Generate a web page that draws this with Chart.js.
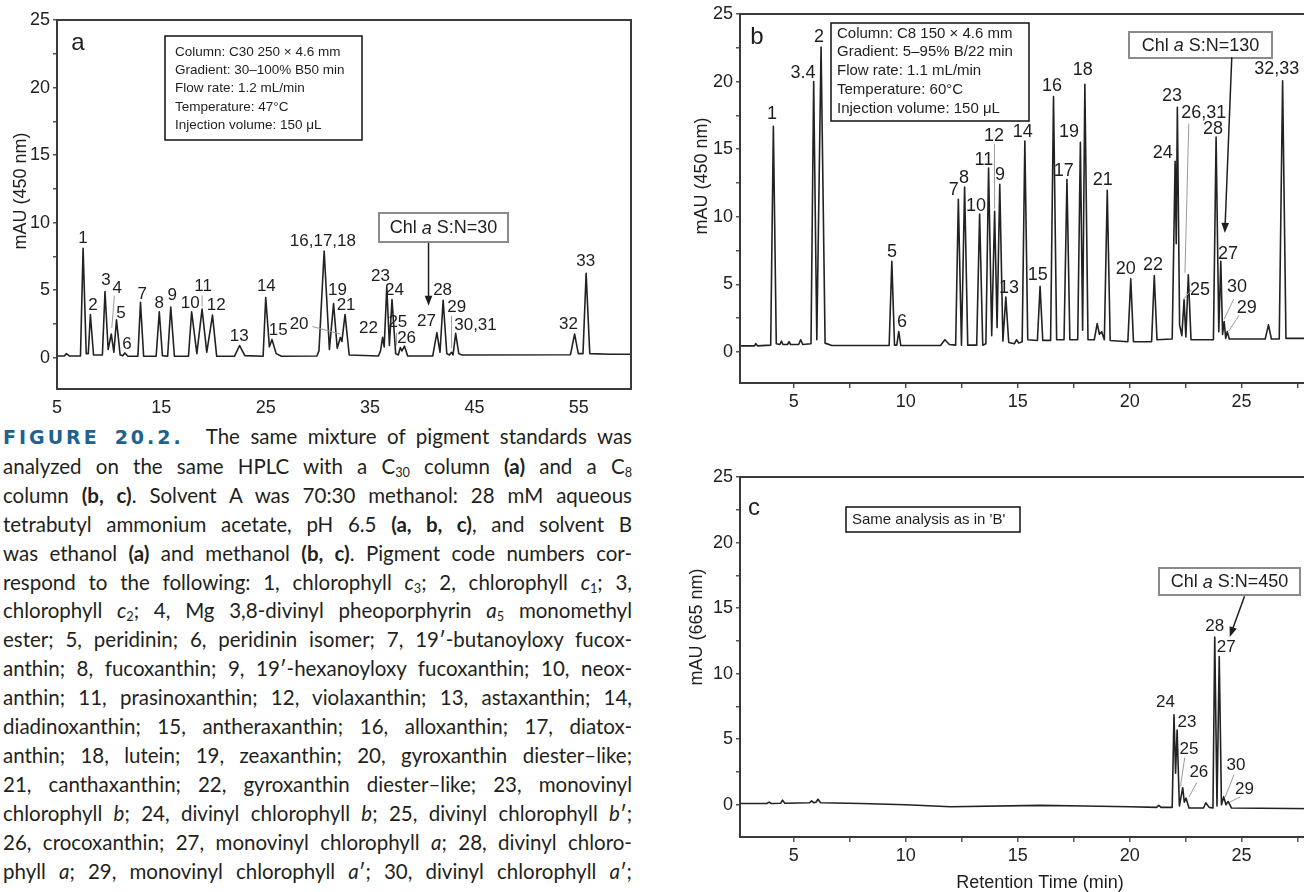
<!DOCTYPE html>
<html>
<head>
<meta charset="utf-8">
<script src="https://cdn.jsdelivr.net/npm/chart.js@4.4.1/dist/chart.umd.min.js"></script>
<style>
  html, body { margin: 0; padding: 0; background: #fff; }
  body { width: 1304px; height: 892px; overflow: hidden; position: relative; }
  canvas { position: absolute; }
  #cA { left: 0; top: 0; }
  #cB { left: 640px; top: 0; }
  #cC { left: 640px; top: 460px; }
  #leyenda {
    position: absolute; left: 3px; top: 422px; width: 629px;
    font-family: Lato, "Open Sans", sans-serif; font-size: 20.5px; line-height: 28.9px; color: #231f20;
  }
  #leyenda div { white-space: nowrap; text-align: justify; text-align-last: justify; }
  .fig { font-family: "DejaVu Sans", sans-serif; font-weight: bold; font-size: 19px; letter-spacing: 3px; color: #20618f; margin-right: 12px; }
  sub { font-size: 0.62em; line-height: 0; vertical-align: -0.25em; }
</style>
</head>
<body>
<canvas id="cA" width="640" height="418"></canvas>
<canvas id="cB" width="700" height="418"></canvas>
<canvas id="cC" width="700" height="432"></canvas>

<div id="leyenda">
  <div><span class="fig">FIGURE 20.2.</span> The same mixture of pigment standards was</div>
  <div>analyzed on the same HPLC with a C<sub>30</sub> column <b>(a)</b> and a C<sub>8</sub></div>
  <div>column <b>(b, c)</b>. Solvent A was 70:30 methanol: 28 mM aqueous</div>
  <div>tetrabutyl ammonium acetate, pH 6.5 <b>(a, b, c)</b>, and solvent B</div>
  <div>was ethanol <b>(a)</b> and methanol <b>(b, c)</b>. Pigment code numbers cor-</div>
  <div>respond to the following: 1, chlorophyll <i>c</i><sub>3</sub>; 2, chlorophyll <i>c</i><sub>1</sub>; 3,</div>
  <div>chlorophyll <i>c</i><sub>2</sub>; 4, Mg 3,8-divinyl pheoporphyrin <i>a</i><sub>5</sub> monomethyl</div>
  <div>ester; 5, peridinin; 6, peridinin isomer; 7, 19′-butanoyloxy fucox-</div>
  <div>anthin; 8, fucoxanthin; 9, 19′-hexanoyloxy fucoxanthin; 10, neox-</div>
  <div>anthin; 11, prasinoxanthin; 12, violaxanthin; 13, astaxanthin; 14,</div>
  <div>diadinoxanthin; 15, antheraxanthin; 16, alloxanthin; 17, diatox-</div>
  <div>anthin; 18, lutein; 19, zeaxanthin; 20, gyroxanthin diester–like;</div>
  <div>21, canthaxanthin; 22, gyroxanthin diester–like; 23, monovinyl</div>
  <div>chlorophyll <i>b</i>; 24, divinyl chlorophyll <i>b</i>; 25, divinyl chlorophyll <i>b</i>′;</div>
  <div>26, crocoxanthin; 27, monovinyl chlorophyll <i>a</i>; 28, divinyl chloro-</div>
  <div>phyll <i>a</i>; 29, monovinyl chlorophyll <i>a</i>′; 30, divinyl chlorophyll <i>a</i>′;</div>
</div>

<script>
const fuente = '"Liberation Sans", Arial, Helvetica, sans-serif';
Chart.defaults.font.family = fuente;
Chart.defaults.color = '#222';

// Cromatograma a: columna C30, 450 nm (tiempo en min, absorbancia en mAU)
const tiempoA = [5.0, 5.7, 5.9, 6.2, 7.25, 7.5, 7.8, 8.0, 8.2, 8.5, 9.35, 9.6, 9.9, 10.2, 10.45, 10.7, 11.05, 11.3, 11.5, 11.8,
  12.75, 13.0, 13.3, 14.5, 14.8, 15.1, 15.6, 15.9, 16.25, 17.6, 17.9, 18.4, 18.9, 19.35, 19.9, 20.3, 22.0, 22.5, 23.0,
  24.75, 25.0, 25.35, 25.6, 26.0, 26.5, 29.9, 30.1, 30.6, 31.1, 31.5, 31.85, 32.15, 32.3, 32.6, 33.0, 35.8, 36.0, 36.2,
  36.35, 36.6, 36.85, 37.1, 37.45, 37.7, 37.9, 38.05, 38.3, 38.6, 41.0, 41.4, 41.7, 42.0, 42.35, 42.6, 42.8, 42.95,
  43.2, 43.5, 43.8, 54.2, 54.6, 54.95, 55.4, 55.7, 56.05, 58.0, 60.0];
const mauA = [0.12, 0.12, 0.3, 0.12, 0.12, 8.1, 0.3, 0.3, 3.2, 0.2, 0.2, 4.9, 0.6, 1.75, 0.4, 2.8, 0.2, 0.15, 0.35, 0.1,
  0.1, 4.1, 0.1, 0.1, 3.4, 0.15, 0.1, 3.75, 0.1, 0.1, 3.4, 0.3, 3.6, 0.4, 3.15, 0.1, 0.1, 0.9, 0.15,
  0.1, 4.45, 0.8, 1.35, 0.3, 0.1, 0.12, 0.5, 7.9, 0.6, 4.0, 0.7, 1.5, 1.2, 3.2, 0.2, 0.12, 0.5, 1.5,
  0.8, 5.25, 0.9, 4.3, 0.3, 0.2, 0.75, 0.5, 0.85, 0.12, 0.12, 1.85, 0.4, 4.25, 0.3, 0.2, 0.4, 0.2,
  1.8, 0.3, 0.2, 0.22, 1.75, 0.3, 0.3, 6.25, 0.3, 0.25, 0.25];

// Cromatograma b: columna C8, 450 nm
const tiempoB = [2.6, 3.25, 3.3, 3.38, 3.97, 4.09, 4.22, 4.38, 4.45, 4.52, 4.72, 4.79, 4.86, 5.22, 5.31, 5.4, 5.77, 5.89,
  6.03, 6.22, 6.4, 6.7, 9.26, 9.38, 9.5, 9.6, 9.69, 9.78, 11.55, 11.75, 11.95, 12.23, 12.35, 12.49, 12.63, 12.77,
  13.17, 13.3, 13.44, 13.58, 13.7, 13.84, 13.97, 14.08, 14.2, 14.34, 14.47, 14.6, 14.85, 14.95, 15.05, 15.2, 15.32,
  15.45, 15.88, 16.0, 16.12, 16.47, 16.6, 16.74, 17.07, 17.2, 17.33, 17.68, 17.8, 17.9, 18.0, 18.14, 18.42, 18.55,
  18.65, 18.75, 18.87, 19.0, 19.13, 19.92, 20.05, 20.17, 20.98, 21.1, 21.22, 21.9, 22.03, 22.08, 22.13, 22.23, 22.33,
  22.43, 22.51, 22.62, 22.74, 23.74, 23.86, 23.98, 24.07, 24.15, 24.22, 24.29, 24.36, 24.45, 26.05, 26.2, 26.33,
  26.68, 26.83, 26.98, 28.5];
const mauB = [0.45, 0.45, 0.62, 0.45, 0.5, 16.7, 0.6, 0.55, 0.8, 0.55, 0.55, 0.75, 0.55, 0.55, 0.9, 0.55, 0.6, 20.0,
  0.9, 22.55, 0.65, 0.47, 0.47, 6.7, 0.5, 0.5, 1.5, 0.47, 0.47, 0.9, 0.55, 0.5, 11.3, 0.5, 12.2, 0.5,
  0.5, 10.2, 0.5, 0.6, 13.6, 1.2, 10.4, 1.8, 12.4, 0.8, 4.05, 0.7, 0.6, 0.9, 0.65, 0.75, 15.6,
  0.9, 0.85, 4.85, 0.85, 0.85, 18.9, 0.9, 0.9, 12.75, 0.9, 0.9, 15.5, 1.6, 19.8, 0.9, 0.9, 2.1,
  1.3, 1.5, 0.9, 11.95, 0.85, 0.75, 5.4, 0.75, 0.75, 5.65, 0.9, 0.95, 14.1, 8.0, 18.1, 2.0, 1.2,
  3.85, 1.1, 5.7, 0.9, 0.9, 15.9, 1.5, 6.7, 1.3, 2.25, 1.0, 1.5, 0.95, 0.95, 2.0, 0.95,
  0.95, 20.05, 1.0, 1.0];

// Cromatograma c: misma corrida que b, leída a 665 nm
const tiempoC = [2.6, 3.8, 3.9, 4.0, 4.42, 4.5, 4.6, 5.7, 5.8, 5.9, 6.0, 6.08, 6.2, 8.0, 10.0, 12.0, 16.0, 18.0, 20.0,
  21.2, 21.3, 21.4, 21.9, 21.98, 22.05, 22.12, 22.22, 22.37, 22.44, 22.52, 22.65, 23.3, 23.4, 23.55, 23.72, 23.8,
  23.9, 24.0, 24.1, 24.2, 24.3, 24.4, 24.55, 28.5];
const mauC = [0.1, 0.1, 0.2, 0.1, 0.12, 0.35, 0.12, 0.15, 0.3, 0.15, 0.2, 0.42, 0.15, 0.1, 0.0, -0.15, -0.05, -0.1, -0.15,
  -0.2, -0.05, -0.2, -0.2, 6.86, 2.4, 5.7, -0.1, 1.3, 0.2, 0.5, -0.25, -0.25, 0.15, -0.2, -0.25, 12.8,
  -0.1, 11.3, 0.0, 0.6, 0.0, 0.25, -0.25, -0.3];

// Ejes
const ticksY = [0, 2.5, 5, 7.5, 10, 12.5, 15, 17.5, 20, 22.5, 25];
const ticksXA = [5, 15, 25, 35, 45, 55];
const ticksXBC = [5, 7.5, 10, 12.5, 15, 17.5, 20, 22.5, 25, 27.5];

// Números de pigmento: [texto, tiempo, mAU]
const picosA = [['1', 7.5, 8.8], ['2', 8.45, 3.9], ['3', 9.7, 5.7], ['4', 10.76, 5.1], ['5', 11.14, 3.3], ['6', 11.7, 1.0],
  ['7', 13.16, 4.7], ['8', 14.8, 4.05], ['9', 16.04, 4.6], ['10', 17.76, 4.05], ['11', 19.0, 5.25], ['12', 20.26, 3.85],
  ['13', 22.47, 1.55], ['14', 25.06, 5.25], ['15', 26.2, 2.05], ['20', 28.2, 2.5], ['16,17,18', 30.48, 8.65],
  ['19', 31.87, 5.0], ['21', 32.7, 3.85], ['22', 34.85, 2.15], ['23', 36.0, 6.05], ['24', 37.34, 4.95],
  ['25', 37.66, 2.65], ['26', 38.5, 1.45], ['27', 40.4, 2.7], ['28', 41.95, 4.95], ['29', 43.3, 3.75],
  ['30,31', 45.1, 2.4], ['32', 54.0, 2.5], ['33', 55.67, 7.1]];
const picosB = [['1', 4.03, 17.6], ['3.4', 5.41, 20.6], ['2', 6.13, 23.3], ['5', 9.39, 7.4], ['6', 9.83, 2.2],
  ['7', 12.15, 12.0], ['8', 12.6, 12.9], ['10', 13.14, 10.8], ['11', 13.49, 14.2], ['12', 13.94, 16.0],
  ['9', 14.21, 13.05], ['13', 14.61, 4.75], ['14', 15.23, 16.25], ['15', 15.9, 5.7], ['16', 16.53, 19.65],
  ['17', 17.06, 13.35], ['19', 17.29, 16.25], ['18', 17.91, 20.85], ['21', 18.8, 12.75], ['20', 19.83, 6.15],
  ['22', 21.04, 6.4], ['24', 21.48, 14.75], ['23', 21.89, 18.9], ['26,31', 23.31, 17.7], ['28', 23.72, 16.5],
  ['25', 23.14, 4.6], ['27', 24.39, 7.25], ['30', 24.79, 4.8], ['29', 25.23, 3.25], ['32,33', 26.57, 20.9]];
const picosC = [['24', 21.6, 7.8], ['23', 22.56, 6.25], ['25', 22.65, 4.2], ['26', 23.09, 2.45], ['28', 23.8, 13.6],
  ['27', 24.31, 12.0], ['30', 24.75, 3.0], ['29', 25.13, 1.15]];

// Líneas guía de etiqueta a pico: [t1, v1, t2, v2]
const guiasA = [[29.47, 2.3, 32.16, 1.75], [10.5, 4.6, 10.25, 2.2], [18.9, 4.6, 18.9, 3.8],
  [37.53, 1.85, 37.53, 0.9], [42.81, 3.1, 42.81, 0.7]];
const guiasB = [[13.96, 15.4, 13.97, 10.6], [22.64, 16.9, 22.47, 5.85], [22.77, 4.6, 22.4, 3.9],
  [24.65, 3.9, 24.21, 2.4], [24.88, 2.7, 24.43, 1.55]];
const guiasC = [[22.46, 3.6, 22.27, 1.4], [23.0, 1.7, 22.65, 0.6], [24.66, 2.3, 24.27, 0.6], [24.94, 0.6, 24.47, 0.2]];

// Condiciones de cada corrida
const condicionesA = ['Column: C30 250 × 4.6 mm', 'Gradient: 30–100% B50 min', 'Flow rate: 1.2 mL/min',
  'Temperature: 47°C', 'Injection volume: 150 μL'];
const condicionesB = ['Column: C8 150 × 4.6 mm', 'Gradient: 5–95% B/22 min', 'Flow rate: 1.1 mL/min',
  'Temperature: 60°C', 'Injection volume: 150 μL'];
const condicionesC = ["Same analysis as in 'B'"];

const puntos = (ts, vs) => ts.map((t, i) => ({ x: t, y: vs[i] }));

// Texto con partes en cursiva, centrado en (cx, cy)
function textoMixto(ctx, partes, cx, cy, tam) {
  const f = (it) => `${it ? 'italic ' : ''}${tam}px ${fuente}`;
  let ancho = 0;
  partes.forEach(([t, it]) => { ctx.font = f(it); ancho += ctx.measureText(t).width; });
  let xx = cx - ancho / 2;
  ctx.textAlign = 'left';
  partes.forEach(([t, it]) => { ctx.font = f(it); ctx.fillText(t, xx, cy); xx += ctx.measureText(t).width; });
}

function flecha(ctx, x1, y1, x2, y2) {
  const ang = Math.atan2(y2 - y1, x2 - x1);
  ctx.beginPath(); ctx.moveTo(x1, y1); ctx.lineTo(x2 - 7 * Math.cos(ang), y2 - 7 * Math.sin(ang)); ctx.stroke();
  ctx.beginPath();
  ctx.moveTo(x2, y2);
  ctx.lineTo(x2 - 10 * Math.cos(ang) + 3.8 * Math.sin(ang), y2 - 10 * Math.sin(ang) - 3.8 * Math.cos(ang));
  ctx.lineTo(x2 - 10 * Math.cos(ang) - 3.8 * Math.sin(ang), y2 - 10 * Math.sin(ang) + 3.8 * Math.cos(ang));
  ctx.closePath(); ctx.fill();
}

// Marco, títulos de eje, números de pico, recuadros y flechas
const marcas = {
  id: 'marcas',
  afterDraw(chart, args, op) {
    const { ctx, chartArea: ca, scales: { x, y } } = chart;
    const px = (t) => x.getPixelForValue(t);
    const py = (v) => y.getPixelForValue(v);
    ctx.save();

    ctx.strokeStyle = '#3a3a3a';
    ctx.lineWidth = 2;
    ctx.strokeRect(ca.left, ca.top, ca.right - ca.left, ca.bottom - ca.top);

    ctx.fillStyle = '#1e1e1e';
    ctx.textBaseline = 'middle';
    ctx.textAlign = 'center';

    // títulos de los ejes
    ctx.font = `18px ${fuente}`;
    const [ty, tyx, tyy] = op.tituloY;
    ctx.save();
    ctx.translate(tyx, tyy);
    ctx.rotate(-Math.PI / 2);
    ctx.fillText(ty, 0, 0);
    ctx.restore();
    if (op.tituloX) {
      const [tx, txx, txy] = op.tituloX;
      ctx.fillText(tx, txx, txy);
    }

    ctx.strokeStyle = '#9a9a9a';
    ctx.lineWidth = 1;
    op.guias.forEach(([t1, v1, t2, v2]) => {
      ctx.beginPath(); ctx.moveTo(px(t1), py(v1)); ctx.lineTo(px(t2), py(v2)); ctx.stroke();
    });

    ctx.font = `${op.tamano}px ${fuente}`;
    op.picos.forEach(([txt, t, v]) => ctx.fillText(txt, px(t), py(v)));

    // letra del panel
    const [letra, lx, ly] = op.letra;
    ctx.font = `24px ${fuente}`;
    ctx.fillText(letra, lx, ly);

    // recuadro de condiciones
    const c = op.cuadro;
    ctx.fillStyle = '#fff';
    ctx.fillRect(c.x, c.y, c.w, c.h);
    ctx.strokeStyle = '#111';
    ctx.lineWidth = 1.5;
    ctx.strokeRect(c.x, c.y, c.w, c.h);
    ctx.fillStyle = '#1e1e1e';
    ctx.textAlign = 'left';
    ctx.font = `${c.tam}px ${fuente}`;
    c.lineas.forEach((l, i) => ctx.fillText(l, c.x0, c.y0 + i * c.paso));

    // señal/ruido de la clorofila a
    const s = op.sn;
    ctx.fillStyle = '#fff';
    ctx.fillRect(s.x, s.y, s.w, s.h);
    ctx.strokeStyle = '#8a8a8a';
    ctx.lineWidth = 2;
    ctx.strokeRect(s.x, s.y, s.w, s.h);
    ctx.fillStyle = '#1e1e1e';
    textoMixto(ctx, [['Chl ', false], ['a', true], [' ' + s.texto, false]], s.x + s.w / 2, s.y + s.h / 2 + 1, s.tam);

    ctx.strokeStyle = '#1e1e1e';
    ctx.lineWidth = 1.5;
    const [t1, v1, t2, v2] = op.flecha;
    flecha(ctx, px(t1), py(v1), px(t2), py(v2));

    ctx.restore();
  }
};

function crearCromatograma(id, cfg) {
  return new Chart(document.getElementById(id), {
    type: 'line',
    data: {
      datasets: [{
        data: puntos(cfg.tiempos, cfg.valores),
        borderColor: '#222', borderWidth: 1.6, borderJoinStyle: 'round',
        pointRadius: 0, tension: 0
      }]
    },
    options: {
      responsive: false,
      animation: false,
      events: [],
      layout: { padding: cfg.padding },
      plugins: { legend: { display: false }, tooltip: { enabled: false }, marcas: cfg.marcas },
      scales: {
        x: {
          type: 'linear', min: cfg.xMin, max: cfg.xMax,
          afterBuildTicks: (s) => { s.ticks = cfg.ticksX.map((v) => ({ value: v })); },
          afterFit: (s) => { s.height = cfg.altoX; },
          border: { display: false },
          grid: cfg.marcasX
            ? { drawOnChartArea: false, tickLength: 5, color: '#555', lineWidth: 1.5 }
            : { display: false },
          ticks: { font: { size: 18 }, padding: cfg.padX, maxRotation: 0, autoSkip: false,
            callback: (v) => (v % 5 === 0 ? v : '') }
        },
        y: {
          min: cfg.yMin, max: 25,
          afterBuildTicks: (s) => { s.ticks = ticksY.map((v) => ({ value: v })); },
          afterFit: (s) => { s.width = cfg.anchoY; },
          border: { display: false },
          grid: { drawOnChartArea: false, tickLength: 4, color: '#555', lineWidth: 1.5 },
          ticks: { font: { size: 18 }, padding: 3, callback: (v) => (v % 5 === 0 ? v : '') }
        }
      }
    },
    plugins: [marcas]
  });
}

crearCromatograma('cA', {
  tiempos: tiempoA, valores: mauA, xMin: 5, xMax: 60, yMin: -2.32, ticksX: ticksXA,
  marcasX: false, altoX: 29, padX: 0, anchoY: 57,
  padding: { top: 20, right: 9, left: 0, bottom: 0 },
  marcas: {
    tituloY: ['mAU (450 nm)', 21, 191],
    picos: picosA, guias: guiasA, tamano: 17, letra: ['a', 78, 43],
    cuadro: { x: 165, y: 36, w: 197, h: 104, lineas: condicionesA, tam: 13.5, x0: 175, y0: 52, paso: 18.3 },
    sn: { x: 379, y: 213, w: 129, h: 29, texto: 'S:N=30', tam: 18 },
    flecha: [40.6, 8.5, 40.6, 3.85]
  }
});

// b y c se dibujan más anchos que la página: el borde derecho queda fuera
crearCromatograma('cB', {
  tiempos: tiempoB, valores: mauB, xMin: 2.6, xMax: 28.5, yMin: -2.3, ticksX: ticksXBC,
  marcasX: true, altoX: 35, padX: 3, anchoY: 100,
  padding: { top: 14, right: 20, left: 0, bottom: 0 },
  marcas: {
    tituloY: ['mAU (450 nm)', 62, 176],
    picos: picosB, guias: guiasB, tamano: 18, letra: ['b', 117, 37],
    cuadro: { x: 191, y: 23, w: 198, h: 98, lineas: condicionesB, tam: 15, x0: 197, y0: 33.5, paso: 18.75 },
    sn: { x: 489, y: 32, w: 143, h: 26, texto: 'S:N=130', tam: 18 },
    flecha: [24.56, 21.8, 24.25, 8.8]
  }
});

crearCromatograma('cC', {
  tiempos: tiempoC, valores: mauC, xMin: 2.6, xMax: 28.5, yMin: -2.46, ticksX: ticksXBC,
  marcasX: true, altoX: 35, padX: 3, anchoY: 100,
  padding: { top: 17, right: 20, left: 0, bottom: 20 },
  marcas: {
    tituloY: ['mAU (665 nm)', 57, 167],
    tituloX: ['Retention Time (min)', 400, 423],
    picos: picosC, guias: guiasC, tamano: 17, letra: ['c', 114, 48],
    cuadro: { x: 206, y: 47, w: 174, h: 25, lineas: condicionesC, tam: 15, x0: 212, y0: 60, paso: 0 },
    sn: { x: 519, y: 108, w: 141, h: 27, texto: 'S:N=450', tam: 18 },
    flecha: [25.13, 15.9, 24.47, 12.8]
  }
});
</script>
</body>
</html>
